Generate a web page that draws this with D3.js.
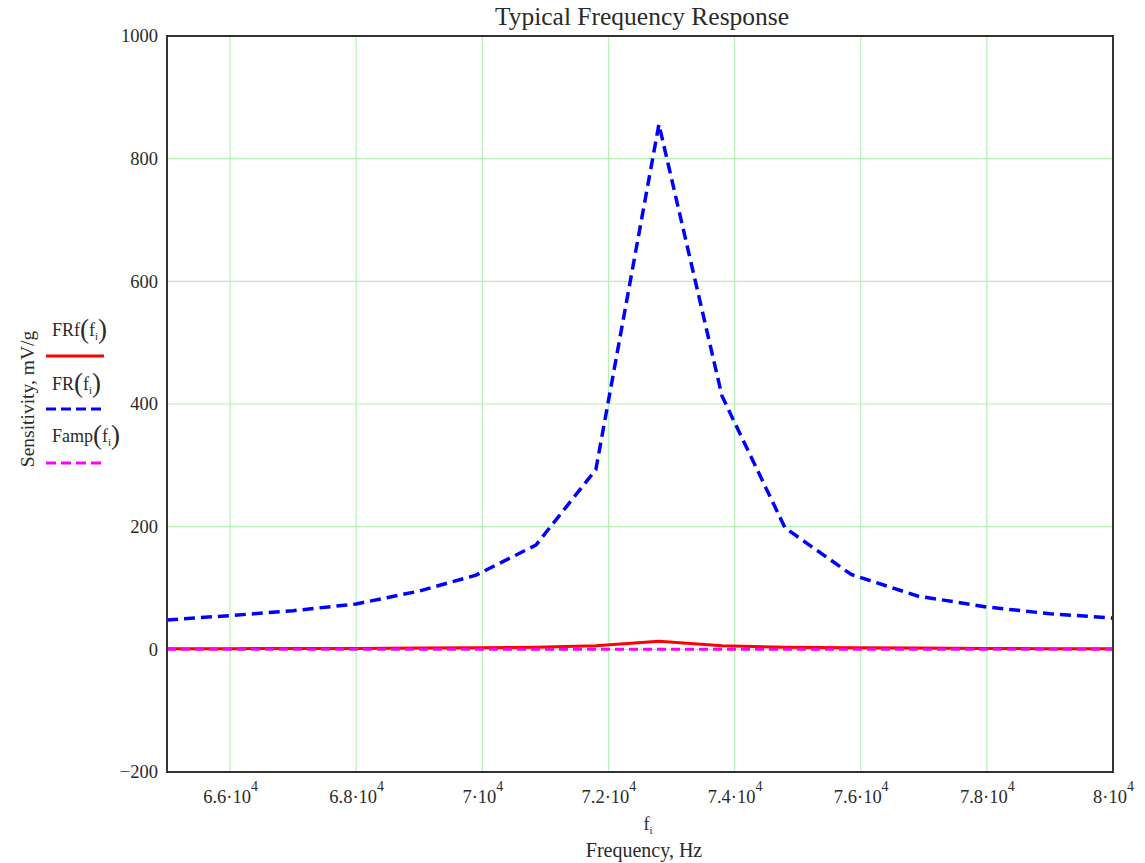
<!DOCTYPE html>
<html><head><meta charset="utf-8">
<script src="https://cdn.jsdelivr.net/npm/d3@7"></script>
<style>
html,body{margin:0;padding:0;background:#fff;}
svg{display:block;}
text{font-family:"Liberation Serif","Times New Roman",serif;fill:#2a2a2a;}
</style></head>
<body>
<svg id="chart" width="1145" height="863"></svg>
<script>
// ---- data ----
const freq = [65000, 66000, 67000, 68000, 69000, 69900, 70850, 71800, 72800, 73800, 74800, 75850, 76900, 78000, 79000, 80000];
const FR   = [48, 55, 63, 74, 95, 121, 170, 293, 856, 413, 198, 122, 87, 69, 58, 51];
const FRf  = [1, 1, 1.5, 1.5, 2, 2.5, 3.5, 6, 13, 6, 3.5, 2.5, 2, 1.5, 1, 1];
const Famp = [0, 0, 0, 0, 0, 0, 0, 0, 0, 0, 0, 0, 0, 0, 0, 0];
const xTicks = [66000, 68000, 70000, 72000, 74000, 76000, 78000, 80000];
const xTickMantissa = ["6.6", "6.8", "7", "7.2", "7.4", "7.6", "7.8", "8"];
const yTicks = [-200, 0, 200, 400, 600, 800, 1000];
const yTickLabels = ["\u2212200", "0", "200", "400", "600", "800", "1000"];

const svg = d3.select("#chart");
const L = 167, R = 1113, T = 36, B = 772;
const x = d3.scaleLinear().domain([65000, 80000]).range([L, R]);
const y = d3.scaleLinear().domain([-200, 1000]).range([B, T]);

// grid
const grid = svg.append("g");
grid.selectAll("line.vx").data(xTicks.filter(d => d < 80000)).join("line")
  .attr("x1", d => x(d)).attr("x2", d => x(d)).attr("y1", T).attr("y2", B)
  .attr("stroke", "#b6f0b6").attr("stroke-width", 1.2);
grid.selectAll("line.hy").data(yTicks.filter(d => d > -200 && d < 1000)).join("line")
  .attr("x1", L).attr("x2", R).attr("y1", d => y(d)).attr("y2", d => y(d))
  .attr("stroke", "#b6f0b6").attr("stroke-width", 1.2);

// y axis labels
const yAxis = d3.axisLeft(y).tickValues(yTicks).tickSize(0).tickPadding(9)
  .tickFormat((d, i) => yTickLabels[i]);
const gy = svg.append("g").attr("transform", `translate(${L},0)`).call(yAxis);
gy.select(".domain").remove();
gy.selectAll("text").style("font-family", '"Liberation Serif",serif').style("font-size", "18.5px").attr("fill", "#2a2a2a");

// x axis labels
const xAxis = d3.axisBottom(x).tickValues(xTicks).tickSize(0).tickFormat("");
const gx = svg.append("g").attr("transform", `translate(0,${B})`).call(xAxis);
gx.select(".domain").remove();
gx.selectAll(".tick").each(function (d, i) {
  const t = d3.select(this).append("text")
    .attr("y", 31).attr("text-anchor", "middle")
    .style("font-family", '"Liberation Serif",serif').style("font-size", "18.5px").attr("fill", "#2a2a2a");
  t.append("tspan").text(xTickMantissa[i] + "\u00B710");
  t.append("tspan").attr("dy", -12).style("font-size", "14px").text("4");
});

// series
const line = d3.line().x((d, i) => x(freq[i])).y(d => y(d));
svg.append("clipPath").attr("id", "clip").append("rect")
  .attr("x", L).attr("y", T).attr("width", R - L).attr("height", B - T);
const plot = svg.append("g").attr("clip-path", "url(#clip)");
plot.append("path").datum(FRf).attr("d", line).attr("fill", "none")
  .attr("stroke", "#ff0000").attr("stroke-width", 3);
plot.append("path").datum(FR).attr("d", line).attr("fill", "none")
  .attr("stroke", "#0000ff").attr("stroke-width", 3.5).attr("stroke-dasharray", "11,6");
plot.append("path").datum(Famp).attr("d", line).attr("fill", "none")
  .attr("stroke", "#ff00ff").attr("stroke-width", 3).attr("stroke-dasharray", "9,5");

// frame
svg.append("rect").attr("x", L).attr("y", T).attr("width", R - L).attr("height", B - T)
  .attr("fill", "none").attr("stroke", "#333").attr("stroke-width", 2);

// title
svg.append("text").attr("x", 642).attr("y", 25).attr("text-anchor", "middle")
  .style("font-size", "25.5px").text("Typical Frequency Response");

// x label
const xl = svg.append("text").attr("x", 648).attr("y", 830).attr("text-anchor", "middle").style("font-size", "18px");
xl.append("tspan").text("f");
xl.append("tspan").attr("dy", 4).style("font-size", "11px").text("i");
svg.append("text").attr("x", 644).attr("y", 857).attr("text-anchor", "middle")
  .style("font-size", "20px").text("Frequency, Hz");

// y label
svg.append("text").attr("transform", "translate(34,399) rotate(-90)").attr("text-anchor", "middle")
  .style("font-size", "19.5px").text("Sensitivity, mV/g");

// legend
const legend = [
  {name: "FRf", color: "#ff0000", dash: null, ty: 336, ly: 356},
  {name: "FR", color: "#0000ff", dash: "10,5", ty: 390, ly: 409},
  {name: "Famp", color: "#ff00ff", dash: "10,5", ty: 442, ly: 463}
];
legend.forEach(l => {
  const t = svg.append("text").attr("x", 52).attr("y", l.ty).style("font-size", "18px");
  t.append("tspan").text(l.name);
  t.append("tspan").style("font-size", "27px").attr("dy", 2).text("(");
  t.append("tspan").style("font-size", "18px").attr("dy", -2).text("f");
  t.append("tspan").style("font-size", "11px").attr("dy", 4).text("i");
  t.append("tspan").style("font-size", "27px").attr("dy", -2).text(")");
  svg.append("line").attr("x1", 46).attr("x2", 104).attr("y1", l.ly).attr("y2", l.ly)
    .attr("stroke", l.color).attr("stroke-width", 3).attr("stroke-dasharray", l.dash);
});
</script>
</body></html>
